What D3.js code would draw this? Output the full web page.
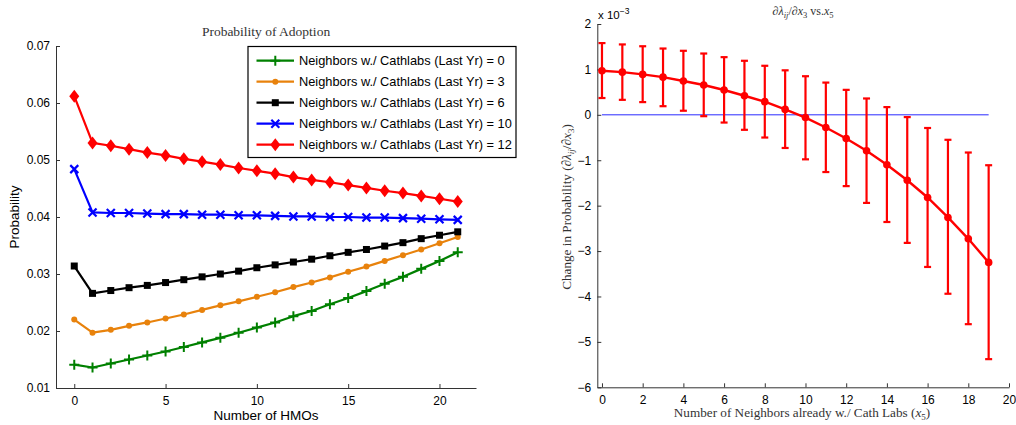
<!DOCTYPE html>
<html><head><meta charset="utf-8">
<script src="https://cdn.jsdelivr.net/npm/d3@7"></script>
<style>
body{margin:0;background:#fff;}
svg{display:block;}
text{font-family:"Liberation Sans",Arial,sans-serif;}
</style></head>
<body>
<svg id="c" width="1016" height="425"></svg>
<script>
// ---------- Left chart data ----------
const hmos = d3.range(0, 22);
const seriesNames = ["Neighbors w./ Cathlabs (Last Yr) = 0","Neighbors w./ Cathlabs (Last Yr) = 3","Neighbors w./ Cathlabs (Last Yr) = 6","Neighbors w./ Cathlabs (Last Yr) = 10","Neighbors w./ Cathlabs (Last Yr) = 12"];
const seriesColors = ["#008000","#e8820c","#000000","#0000ff","#ff0000"];
const seriesMarkers = ["plus","circle","square","cross","diamond"];
const n0  = [0.0141,0.0136,0.0143,0.0150,0.0157,0.0164,0.0172,0.0180,0.0188,0.0197,0.0206,0.0215,0.0226,0.0235,0.0247,0.0258,0.0270,0.0283,0.0295,0.0309,0.0323,0.0338];
const n3  = [0.0220,0.0197,0.0202,0.0209,0.0215,0.0222,0.0229,0.0237,0.0245,0.0252,0.0260,0.0268,0.0277,0.0285,0.0294,0.0304,0.0313,0.0323,0.0333,0.0343,0.0354,0.0365];
const n6  = [0.0314,0.0266,0.0271,0.0276,0.0280,0.0285,0.0290,0.0295,0.0300,0.0305,0.0311,0.0316,0.0321,0.0326,0.0332,0.0338,0.0343,0.0349,0.0355,0.0362,0.0368,0.0374];
const n10 = [0.0484,0.0408,0.0407,0.0407,0.0406,0.0405,0.0405,0.0404,0.0404,0.0403,0.0403,0.0402,0.0401,0.0401,0.0400,0.0400,0.0399,0.0399,0.0398,0.0397,0.0396,0.0395];
const n12 = [0.0612,0.0530,0.0525,0.0519,0.0513,0.0508,0.0502,0.0497,0.0492,0.0486,0.0481,0.0476,0.0470,0.0465,0.0461,0.0456,0.0451,0.0446,0.0442,0.0437,0.0432,0.0427];
const leftXTicks = [0,5,10,15,20];
const leftYTicks = [0.01,0.02,0.03,0.04,0.05,0.06,0.07];

// ---------- Right chart data ----------
const neighbors = d3.range(0, 20);
const effect = [0.97,0.94,0.89,0.83,0.745,0.657,0.547,0.42,0.29,0.12,-0.06,-0.28,-0.52,-0.79,-1.10,-1.44,-1.82,-2.26,-2.73,-3.25];
const upper  = [1.58,1.55,1.51,1.46,1.41,1.35,1.27,1.19,1.08,0.98,0.85,0.71,0.55,0.36,0.17,-0.05,-0.29,-0.55,-0.83,-1.11];
const lower  = [0.37,0.33,0.28,0.19,0.09,-0.03,-0.17,-0.33,-0.50,-0.73,-0.98,-1.26,-1.57,-1.94,-2.36,-2.82,-3.35,-3.94,-4.61,-5.38];
const rightXTicks = [0,2,4,6,8,10,12,14,16,18,20];
const rightYTicks = [-6,-5,-4,-3,-2,-1,0,1,2];

const svg = d3.select("#c");
const axisColor = "#333";

function styleAxis(g){
  g.select(".domain").attr("stroke", axisColor).attr("stroke-width", 1);
  g.selectAll(".tick line").attr("stroke", axisColor);
  g.selectAll(".tick text").attr("fill","#000").style("font-size","12px").style("font-family","'Liberation Sans',Arial,sans-serif");
}

// ---------- LEFT ----------
const L = {x0:56, x1:476, y0:46, y1:388};
const lx = d3.scaleLinear().domain([-1,22]).range([L.x0, L.x1]);
const ly = d3.scaleLinear().domain([0.01,0.07]).range([L.y1, L.y0]);

svg.append("g").attr("transform",`translate(0,${L.y1})`)
  .call(d3.axisBottom(lx).tickValues(leftXTicks).tickSizeInner(-4).tickSizeOuter(0).tickPadding(8).tickFormat(d3.format("d")))
  .call(styleAxis);
svg.append("g").attr("transform",`translate(${L.x0},0)`)
  .call(d3.axisLeft(ly).tickValues(leftYTicks).tickSizeInner(-4).tickSizeOuter(0).tickPadding(6).tickFormat(d3.format(".2f")))
  .call(styleAxis);

const serifFam = "'Liberation Serif','DejaVu Serif',serif";
svg.append("text").attr("x",266).attr("y",36).attr("text-anchor","middle")
  .attr("fill","#333").style("font-size","13.5px").style("font-family",serifFam).text("Probability of Adoption");
svg.append("text").attr("x",266).attr("y",420).attr("text-anchor","middle").style("font-size","13.5px").text("Number of HMOs");
svg.append("text").attr("transform","translate(19,217) rotate(-90)").attr("text-anchor","middle").style("font-size","13.5px").text("Probability");

function drawMarker(g, type, x, y, color){
  if(type==="plus"){
    g.append("path").attr("d",`M${x-5},${y}H${x+5}M${x},${y-5}V${y+5}`).attr("stroke",color).attr("stroke-width",2).attr("fill","none");
  } else if(type==="circle"){
    g.append("circle").attr("cx",x).attr("cy",y).attr("r",3).attr("fill",color);
  } else if(type==="square"){
    g.append("rect").attr("x",x-3.5).attr("y",y-3.5).attr("width",7).attr("height",7).attr("fill",color);
  } else if(type==="cross"){
    g.append("path").attr("d",`M${x-4},${y-4}L${x+4},${y+4}M${x-4},${y+4}L${x+4},${y-4}`).attr("stroke",color).attr("stroke-width",2.2).attr("fill","none");
  } else if(type==="diamond"){
    g.append("path").attr("d",`M${x},${y-6.5}L${x+5},${y}L${x},${y+6.5}L${x-5},${y}Z`).attr("fill",color);
  }
}

const leftSeries = [n0,n3,n6,n10,n12];
const line = d3.line().x((d,i)=>lx(hmos[i])).y(d=>ly(d));
leftSeries.forEach((s,k)=>{
  const g = svg.append("g");
  g.append("path").attr("d",line(s)).attr("fill","none").attr("stroke",seriesColors[k]).attr("stroke-width",2.2).attr("stroke-linejoin","round");
  s.forEach((v,i)=>drawMarker(g, seriesMarkers[k], lx(hmos[i]), ly(v), seriesColors[k]));
});

// legend
const lg = svg.append("g");
lg.append("rect").attr("x",248).attr("y",46.5).attr("width",268).attr("height",111).attr("fill","#fff").attr("stroke","#000").attr("stroke-width",1.2);
seriesNames.forEach((name,k)=>{
  const yy = 60.7 + k*21;
  lg.append("line").attr("x1",256.5).attr("x2",294).attr("y1",yy).attr("y2",yy).attr("stroke",seriesColors[k]).attr("stroke-width",2.2);
  drawMarker(lg, seriesMarkers[k], 275.3, yy, seriesColors[k]);
  lg.append("text").attr("x",299).attr("y",yy+4.6).style("font-size","12.8px").attr("fill","#000").text(name);
});

// ---------- RIGHT ----------
const R = {x0:597.3, x1:1009, y0:24, y1:387.3};
const rx = d3.scaleLinear().domain([-0.23,20]).range([R.x0, R.x1]);
const ry = d3.scaleLinear().domain([-6,2]).range([R.y1, R.y0]);

svg.append("g").attr("transform",`translate(0,${R.y1})`)
  .call(d3.axisBottom(rx).tickValues(rightXTicks).tickSizeInner(-4).tickSizeOuter(0).tickPadding(8).tickFormat(d3.format("d")))
  .call(styleAxis);
svg.append("g").attr("transform",`translate(${R.x0},0)`)
  .call(d3.axisLeft(ry).tickValues(rightYTicks).tickSizeInner(-4).tickSizeOuter(0).tickPadding(6).tickFormat(d=>d<0?"\u2212"+Math.abs(d):String(d)))
  .call(styleAxis);

// exponent label
const ex = svg.append("text").attr("x",598).attr("y",19).style("font-size","11.5px");
ex.append("tspan").text("x 10");
ex.append("tspan").attr("dy",-5).style("font-size","8.5px").text("\u22123");

// zero line
svg.append("line").attr("x1",rx(0)).attr("x2",rx(19)).attr("y1",ry(0)).attr("y2",ry(0)).attr("stroke","#2a2aff").attr("stroke-width",1);

// error bars
const eg = svg.append("g").attr("stroke","#ff0000").attr("stroke-width",2.2);
neighbors.forEach((n,i)=>{
  const x = rx(n);
  eg.append("line").attr("x1",x).attr("x2",x).attr("y1",ry(upper[i])).attr("y2",ry(lower[i]));
  eg.append("line").attr("x1",x-3.5).attr("x2",x+3.5).attr("y1",ry(upper[i])).attr("y2",ry(upper[i]));
  eg.append("line").attr("x1",x-3.5).attr("x2",x+3.5).attr("y1",ry(lower[i])).attr("y2",ry(lower[i]));
});
const rline = d3.line().x((d,i)=>rx(neighbors[i])).y(d=>ry(d));
svg.append("path").attr("d",rline(effect)).attr("fill","none").attr("stroke","#ff0000").attr("stroke-width",2.4);
svg.append("g").selectAll("circle").data(effect).join("circle")
  .attr("cx",(d,i)=>rx(neighbors[i])).attr("cy",d=>ry(d)).attr("r",3.8).attr("fill","#ff0000");

// right title (math)
const rt = svg.append("text").attr("x",803).attr("y",15).attr("text-anchor","middle").attr("fill","#333").style("font-family",serifFam).style("font-size","12px");
rt.append("tspan").text("\u2202");
rt.append("tspan").style("font-style","italic").text("\u03bb");
rt.append("tspan").style("font-style","italic").style("font-size","8.5px").attr("dy",3).text("ij");
rt.append("tspan").attr("dy",-3).text("/\u2202");
rt.append("tspan").style("font-style","italic").text("x");
rt.append("tspan").style("font-size","8.5px").attr("dy",3).text("3");
rt.append("tspan").attr("dy",-3).text(" vs.");
rt.append("tspan").style("font-style","italic").text("x");
rt.append("tspan").style("font-size","8.5px").attr("dy",3).text("5");

// right x label
const rxl = svg.append("text").attr("x",802).attr("y",417).attr("text-anchor","middle").attr("fill","#333").style("font-family",serifFam).style("font-size","13.2px");
rxl.append("tspan").text("Number of Neighbors already w./ Cath Labs (");
rxl.append("tspan").style("font-style","italic").text("x");
rxl.append("tspan").style("font-size","9px").attr("dy",3).text("5");
rxl.append("tspan").attr("dy",-3).text(")");

// right y label
const ryl = svg.append("text").attr("transform","translate(571,207) rotate(-90)").attr("text-anchor","middle").attr("fill","#333").style("font-family",serifFam).style("font-size","13.2px");
ryl.append("tspan").text("Change in Probability (\u2202");
ryl.append("tspan").style("font-style","italic").text("\u03bb");
ryl.append("tspan").style("font-style","italic").style("font-size","9px").attr("dy",3).text("ij");
ryl.append("tspan").attr("dy",-3).text("/\u2202");
ryl.append("tspan").style("font-style","italic").text("x");
ryl.append("tspan").style("font-size","9px").attr("dy",3).text("3");
ryl.append("tspan").attr("dy",-3).text(")");
</script>
</body></html>
